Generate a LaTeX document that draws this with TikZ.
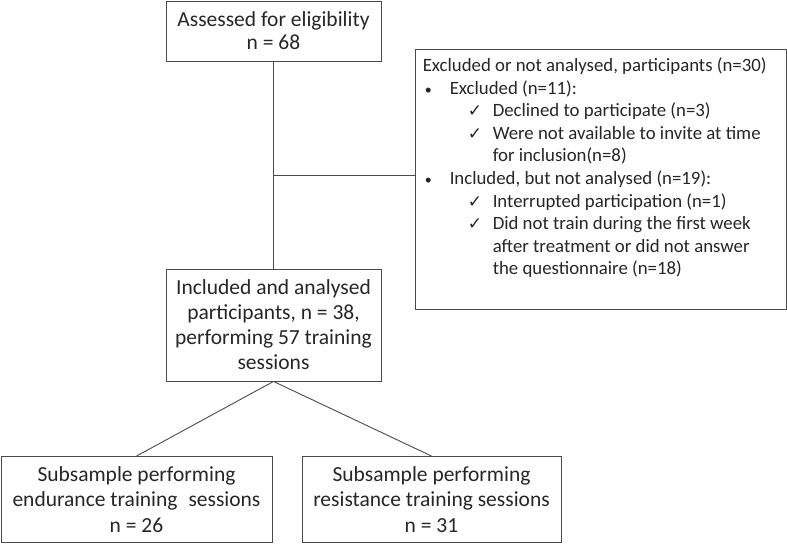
\documentclass[tikz,border=0pt]{standalone}
\usepackage{fontspec}
\setmainfont{Carlito}
\newfontfamily\symfont{DejaVu Sans}
\usetikzlibrary{calc}
\definecolor{framegray}{HTML}{4A4A4A}
\definecolor{textgray}{HTML}{262626}
\newcommand{\chk}{\makebox[25pt][l]{\symfont\fontsize{17}{17}\selectfont ✓}}
\newcommand{\bul}{\makebox[25pt][l]{\fontsize{14}{14}\selectfont\textbullet}}
\tikzset{
    flowbox/.style={draw=framegray, line width=0.9pt, align=center, inner sep=0pt,
        text=textgray, font=\fontsize{21.5}{23}\selectfont},
    link/.style={draw=framegray, line width=0.9pt}
}

\begin{document}
\begin{tikzpicture}[x=1pt,y=-1pt]
    \useasboundingbox (0,0) rectangle (787,545);
    \node[flowbox, minimum width=215pt, minimum height=60pt] (assess) at (273.5,31)
        {Assessed for eligibility\\n = 68};
    \node[flowbox, minimum width=215pt, minimum height=112pt,
        font=\fontsize{21.5}{25}\selectfont] (incl) at (273.5,325)
        {Included and analysed\\participants, n = 38,\\performing 57 training\\sessions};
    \node[flowbox, minimum width=371pt, minimum height=260pt] (excl) at (600.5,179) {};
    \node[anchor=north west, align=left, inner sep=0pt, text=textgray,
        font=\fontsize{18.8}{22.6}\selectfont] (excltext) at ($(excl.north west)+(8,9)$)
        {Excluded or not analysed, participants (n=30)\\
        \hspace*{2pt}\bul Excluded (n=11):\\
        \hspace*{45pt}\chk Declined to participate (n=3)\\
        \hspace*{45pt}\chk Were not available to invite at time\\
        \hspace*{70pt}for inclusion(n=8)\\
        \hspace*{2pt}\bul Included, but not analysed (n=19):\\
        \hspace*{45pt}\chk Interrupted participation (n=1)\\
        \hspace*{45pt}\chk Did not train during the first week\\
        \hspace*{70pt}after treatment or did not answer\\
        \hspace*{70pt}the questionnaire (n=18)};
    \node[flowbox, minimum width=271pt, minimum height=86pt,
        font=\fontsize{21.5}{25.5}\selectfont] (endu) at (136.5,499.5)
        {Subsample performing\\endurance training\hspace{11pt}sessions\\n = 26};
    \node[flowbox, minimum width=259pt, minimum height=86pt,
        font=\fontsize{21.5}{25.5}\selectfont] (resi) at (431.5,499.5)
        {Subsample performing\\resistance training sessions\\n = 31};
    % main line and branch to the excluded box
    \draw[link] (assess.south) -- (incl.north);
    \coordinate (branch) at ($(assess.south)!0.5!(incl.north)+(0,10)$);
    \draw[link] (branch) -- (branch -| excl.west);
    % split into the two subsamples
    \draw[link] (incl.south) -- (endu.north);
    \draw[link] (incl.south) -- (resi.north);
\end{tikzpicture}
\end{document}
